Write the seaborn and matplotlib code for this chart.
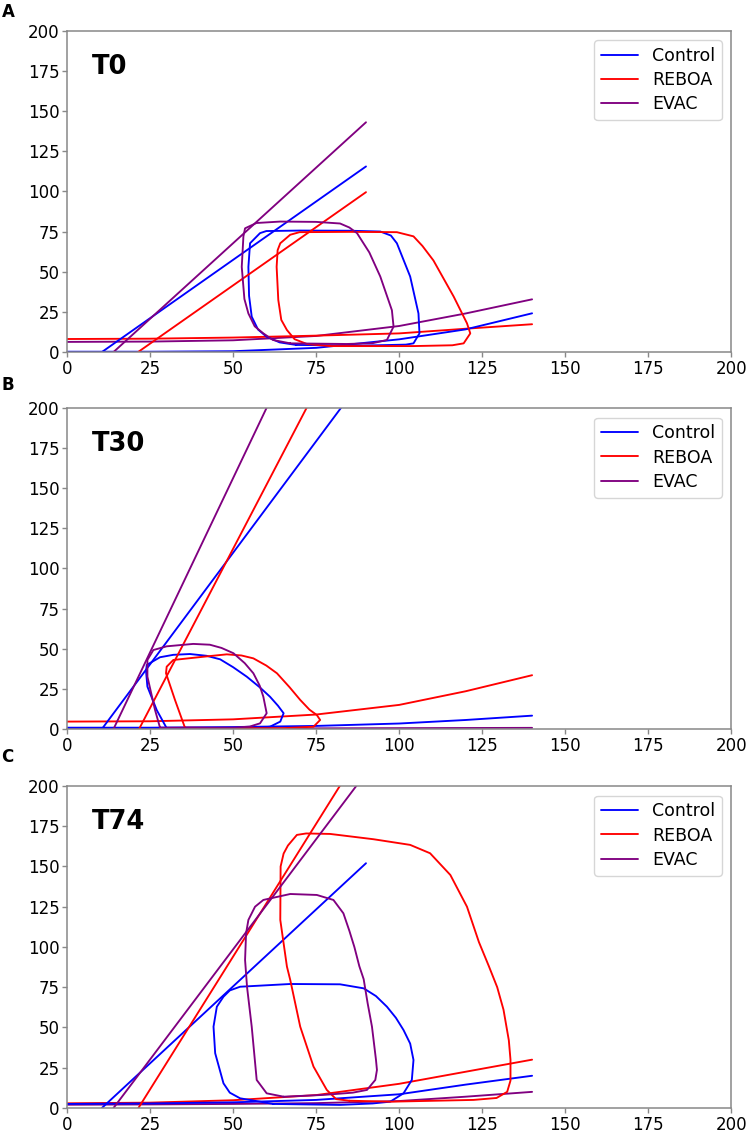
import matplotlib
matplotlib.use("Agg")
import matplotlib.pyplot as plt
from matplotlib.lines import Line2D
import seaborn as sns

groups = ["Control", "REBOA", "EVAC"]
group_colors = ["blue", "red", "purple"]
timepoints = ["T0", "T30", "T74"]
panel_letters = ["A", "B", "C"]
ticks = [0, 25, 50, 75, 100, 125, 150, 175, 200]

# ESPVR lines: volume intercept and pressure at V = 90
espvr_v_end = 90
t0_espvr_v0 = [10.5, 21.4, 14.0]
t0_espvr_p_end = [115.5, 99.5, 143.0]
t30_espvr_v0 = [10.5, 21.7, 14.0]
t30_espvr_p_end = [221.0, 271.0, 330.0]
t74_espvr_v0 = [10.5, 21.5, 14.0]
t74_espvr_p_end = [152.0, 226.0, 208.0]

# EDPVR curves read at these volumes
edpvr_v = [0, 25, 50, 75, 100, 120, 140]
t0_edpvr_control = [0.2, 0.2, 0.5, 2.6, 7.9, 14.1, 24.1]
t0_edpvr_reboa = [8.1, 8.3, 9.0, 10.2, 11.6, 14.5, 17.3]
t0_edpvr_evac = [6.3, 6.5, 7.3, 10.0, 16.2, 24.0, 32.8]
t30_edpvr_control = [0.8, 0.8, 1.2, 1.9, 3.4, 5.6, 8.3]
t30_edpvr_reboa = [4.6, 4.8, 6.0, 9.0, 15.0, 23.5, 33.5]
t30_edpvr_evac = [0.3, 0.3, 0.3, 0.4, 0.5, 0.6, 0.7]
t74_edpvr_control = [2.5, 2.8, 3.5, 5.0, 8.5, 14.5, 20.0]
t74_edpvr_reboa = [2.9, 3.3, 4.8, 8.0, 15.0, 22.5, 30.0]
t74_edpvr_evac = [2.0, 2.2, 2.5, 3.0, 4.3, 7.0, 10.0]

# PV loops (volume, pressure)
t0_control_v = [69, 89, 102, 104.3, 106.1, 105.8, 103.3, 99.3, 97.5, 94.3, 85, 70, 60, 58.1, 55.1, 54.6, 54.8, 55.6, 57.5, 60.1, 64, 69]
t0_control_p = [4.4, 4.0, 4.6, 5.4, 11.6, 24, 47, 67.7, 72.5, 75, 75.5, 75.6, 75.3, 74, 67.7, 53, 35, 22, 14, 9.5, 6, 4.4]
t0_reboa_v = [79.2, 104.3, 116, 119.4, 121.4, 120.4, 116.4, 110.3, 107, 104.3, 99.3, 85, 70, 67.2, 64.2, 63.4, 63.1, 63.6, 64.5, 66.2, 68.5, 72.2, 79.2]
t0_reboa_p = [3.7, 3.7, 4.2, 5.4, 11.6, 17.9, 34.5, 57, 66, 72, 74.6, 74.8, 74.6, 73, 67.7, 63.4, 53, 32.4, 20, 13.7, 8, 5, 3.7]
t0_evac_v = [67.2, 84.2, 92, 96.3, 98.3, 97.8, 94.3, 91, 87.3, 85, 82.2, 75, 64.2, 57, 53.6, 53.1, 52.6, 53.4, 54.6, 56.5, 59.1, 62, 67.2]
t0_evac_p = [5.4, 5.0, 5.5, 7.5, 15.8, 26, 47, 62, 74, 77.5, 80, 81, 81.2, 80.3, 77, 72, 53, 33, 24, 16, 11.6, 7.5, 5.4]

t30_control_v = [30, 45, 58, 61.1, 64.2, 65.2, 63.5, 61.1, 58, 54.1, 50, 46.1, 42, 37, 32, 28, 24, 23.8, 24.2, 27, 30]
t30_control_p = [0.5, 0.5, 0.8, 1.4, 4.6, 9.8, 14.5, 20.1, 26, 32.6, 38.5, 43.4, 45.6, 46.7, 46.2, 44.7, 39.9, 35.7, 26.4, 11.8, 0.5]
t30_reboa_v = [35.5, 50, 65, 74.2, 76.2, 75.2, 73, 70.2, 67, 63.2, 60, 56.1, 52.5, 48.1, 41, 32, 30, 29.8, 32.5, 35.5]
t30_reboa_p = [0.8, 0.5, 0.5, 1.4, 5.6, 8.7, 12, 18.1, 26, 34.7, 39.5, 44, 45.8, 46.5, 45, 43, 38.8, 34.7, 18.1, 0.8]
t30_evac_v = [28, 40, 50.1, 55, 58.1, 60.1, 59.1, 58, 56.1, 53.5, 50.1, 46.5, 43, 38, 30, 26, 24.2, 24.2, 26.5, 28]
t30_evac_p = [0.8, 0.8, 0.8, 1.5, 3.5, 9.8, 20.1, 27, 34.7, 41, 47.2, 50.5, 52.5, 53, 51.5, 49.2, 43, 32.6, 11.8, 0.8]

t74_control_v = [62.1, 82.2, 92, 97.3, 101.3, 103.8, 104.3, 103.3, 101.3, 99, 96.3, 93, 89.3, 82.2, 67.2, 52.1, 49, 47.1, 45.1, 44.1, 44.6, 47.1, 49, 52.1, 62.1]
t74_control_p = [2.5, 1.9, 2.8, 3.9, 9.1, 17.4, 29.8, 40, 48.4, 56, 62.9, 69.5, 74.3, 76.8, 77, 75.3, 73, 69.1, 62.9, 50.5, 34, 15.3, 9.5, 6, 2.5]
t74_reboa_v = [85, 97.3, 122.4, 129.3, 132.5, 133.5, 133.5, 133, 131.4, 129.5, 127, 124, 120.4, 115.4, 109.3, 103.3, 92.3, 79.2, 72, 69.2,
               66.5, 65.2, 64.3, 64.2, 66.2, 67.2, 70.2, 74.2, 78.2, 81, 85]
t74_reboa_p = [4.5, 3.9, 5.0, 6.2, 10, 17, 30, 42, 61, 75, 88, 103, 125, 144.7, 158.2, 163.4, 166.9, 170.2, 170.5, 169.6,
               163, 158, 150, 116.8, 87.8, 79.5, 50.5, 25.7, 11.2, 5.5, 4.5]
t74_evac_v = [65.2, 77.2, 86, 90.3, 92.8, 93.3, 93, 91.8, 90.5, 89.3, 88, 86.5, 85, 83.2, 80.2, 75.2, 67.2, 59.1, 56.6, 54.6, 53.9, 53.6, 54.2, 55.6, 57.1, 60.1, 65.2]
t74_evac_p = [7, 8.1, 9.5, 11.2, 17.4, 23.6, 30, 50.5, 65, 80, 88, 100, 110, 120.9, 129.2, 132.3, 132.9, 129.2, 125, 116.8, 108.5, 91.9, 75, 50.5, 17.4, 9.1, 7]

panels = [
    dict(v0=t0_espvr_v0, p_end=t0_espvr_p_end,
         edpvr=[t0_edpvr_control, t0_edpvr_reboa, t0_edpvr_evac],
         loops=[(t0_control_v, t0_control_p), (t0_reboa_v, t0_reboa_p), (t0_evac_v, t0_evac_p)]),
    dict(v0=t30_espvr_v0, p_end=t30_espvr_p_end,
         edpvr=[t30_edpvr_control, t30_edpvr_reboa, t30_edpvr_evac],
         loops=[(t30_control_v, t30_control_p), (t30_reboa_v, t30_reboa_p), (t30_evac_v, t30_evac_p)]),
    dict(v0=t74_espvr_v0, p_end=t74_espvr_p_end,
         edpvr=[t74_edpvr_control, t74_edpvr_reboa, t74_edpvr_evac],
         loops=[(t74_control_v, t74_control_p), (t74_reboa_v, t74_reboa_p), (t74_evac_v, t74_evac_p)]),
]

sns.set_style("white")
plt.rcParams["font.family"] = ["DejaVu Sans"]
plt.rcParams["text.color"] = "black"

fig = plt.figure(figsize=(7.48, 11.33), dpi=100)
ax_boxes = [
    [0.0896, 0.6893, 0.8882, 0.2836],
    [0.0896, 0.3566, 0.8882, 0.2833],
    [0.0896, 0.0221, 0.8882, 0.2842],
]
letter_y = [0.989, 0.660, 0.332]
lw = 1.35

for i, panel in enumerate(panels):
    ax = fig.add_axes(ax_boxes[i])
    # EDPVR (drawn back to front)
    for g in [2, 1, 0]:
        sns.lineplot(x=edpvr_v, y=panel["edpvr"][g], color=group_colors[g], lw=lw,
                     sort=False, estimator=None, ax=ax)
    for g in range(3):
        sns.lineplot(x=[panel["v0"][g], espvr_v_end], y=[0, panel["p_end"][g]],
                     color=group_colors[g], lw=lw, sort=False, estimator=None, ax=ax)
        v, p = panel["loops"][g]
        sns.lineplot(x=v, y=p, color=group_colors[g], lw=lw,
                     sort=False, estimator=None, ax=ax)

    ax.set_xlim(0, 200)
    ax.set_ylim(0, 200)
    ax.set_xticks(ticks)
    ax.set_yticks(ticks)
    ax.set_xlabel("")
    ax.set_ylabel("")
    ax.tick_params(labelsize=12, length=3.5, width=1, color="#888888",
                   labelcolor="black", bottom=True, left=True, pad=2)
    for s in ax.spines.values():
        s.set_color("#888888")
        s.set_linewidth(1.1)

    ax.text(7.5, 177.5, timepoints[i], fontsize=18.5, fontweight="bold",
            ha="left", va="center", color="black")

    handles = [Line2D([0], [0], color=c, lw=lw) for c in group_colors]
    ax.legend(handles, groups, loc="upper right", fontsize=12.5, frameon=True,
              borderaxespad=0.55, labelspacing=0.35, handlelength=2.1)

    fig.text(0.002, letter_y[i], panel_letters[i], fontsize=12,
             fontweight="bold", ha="left", va="center", color="black")

fig.savefig("out.png", dpi=100)
